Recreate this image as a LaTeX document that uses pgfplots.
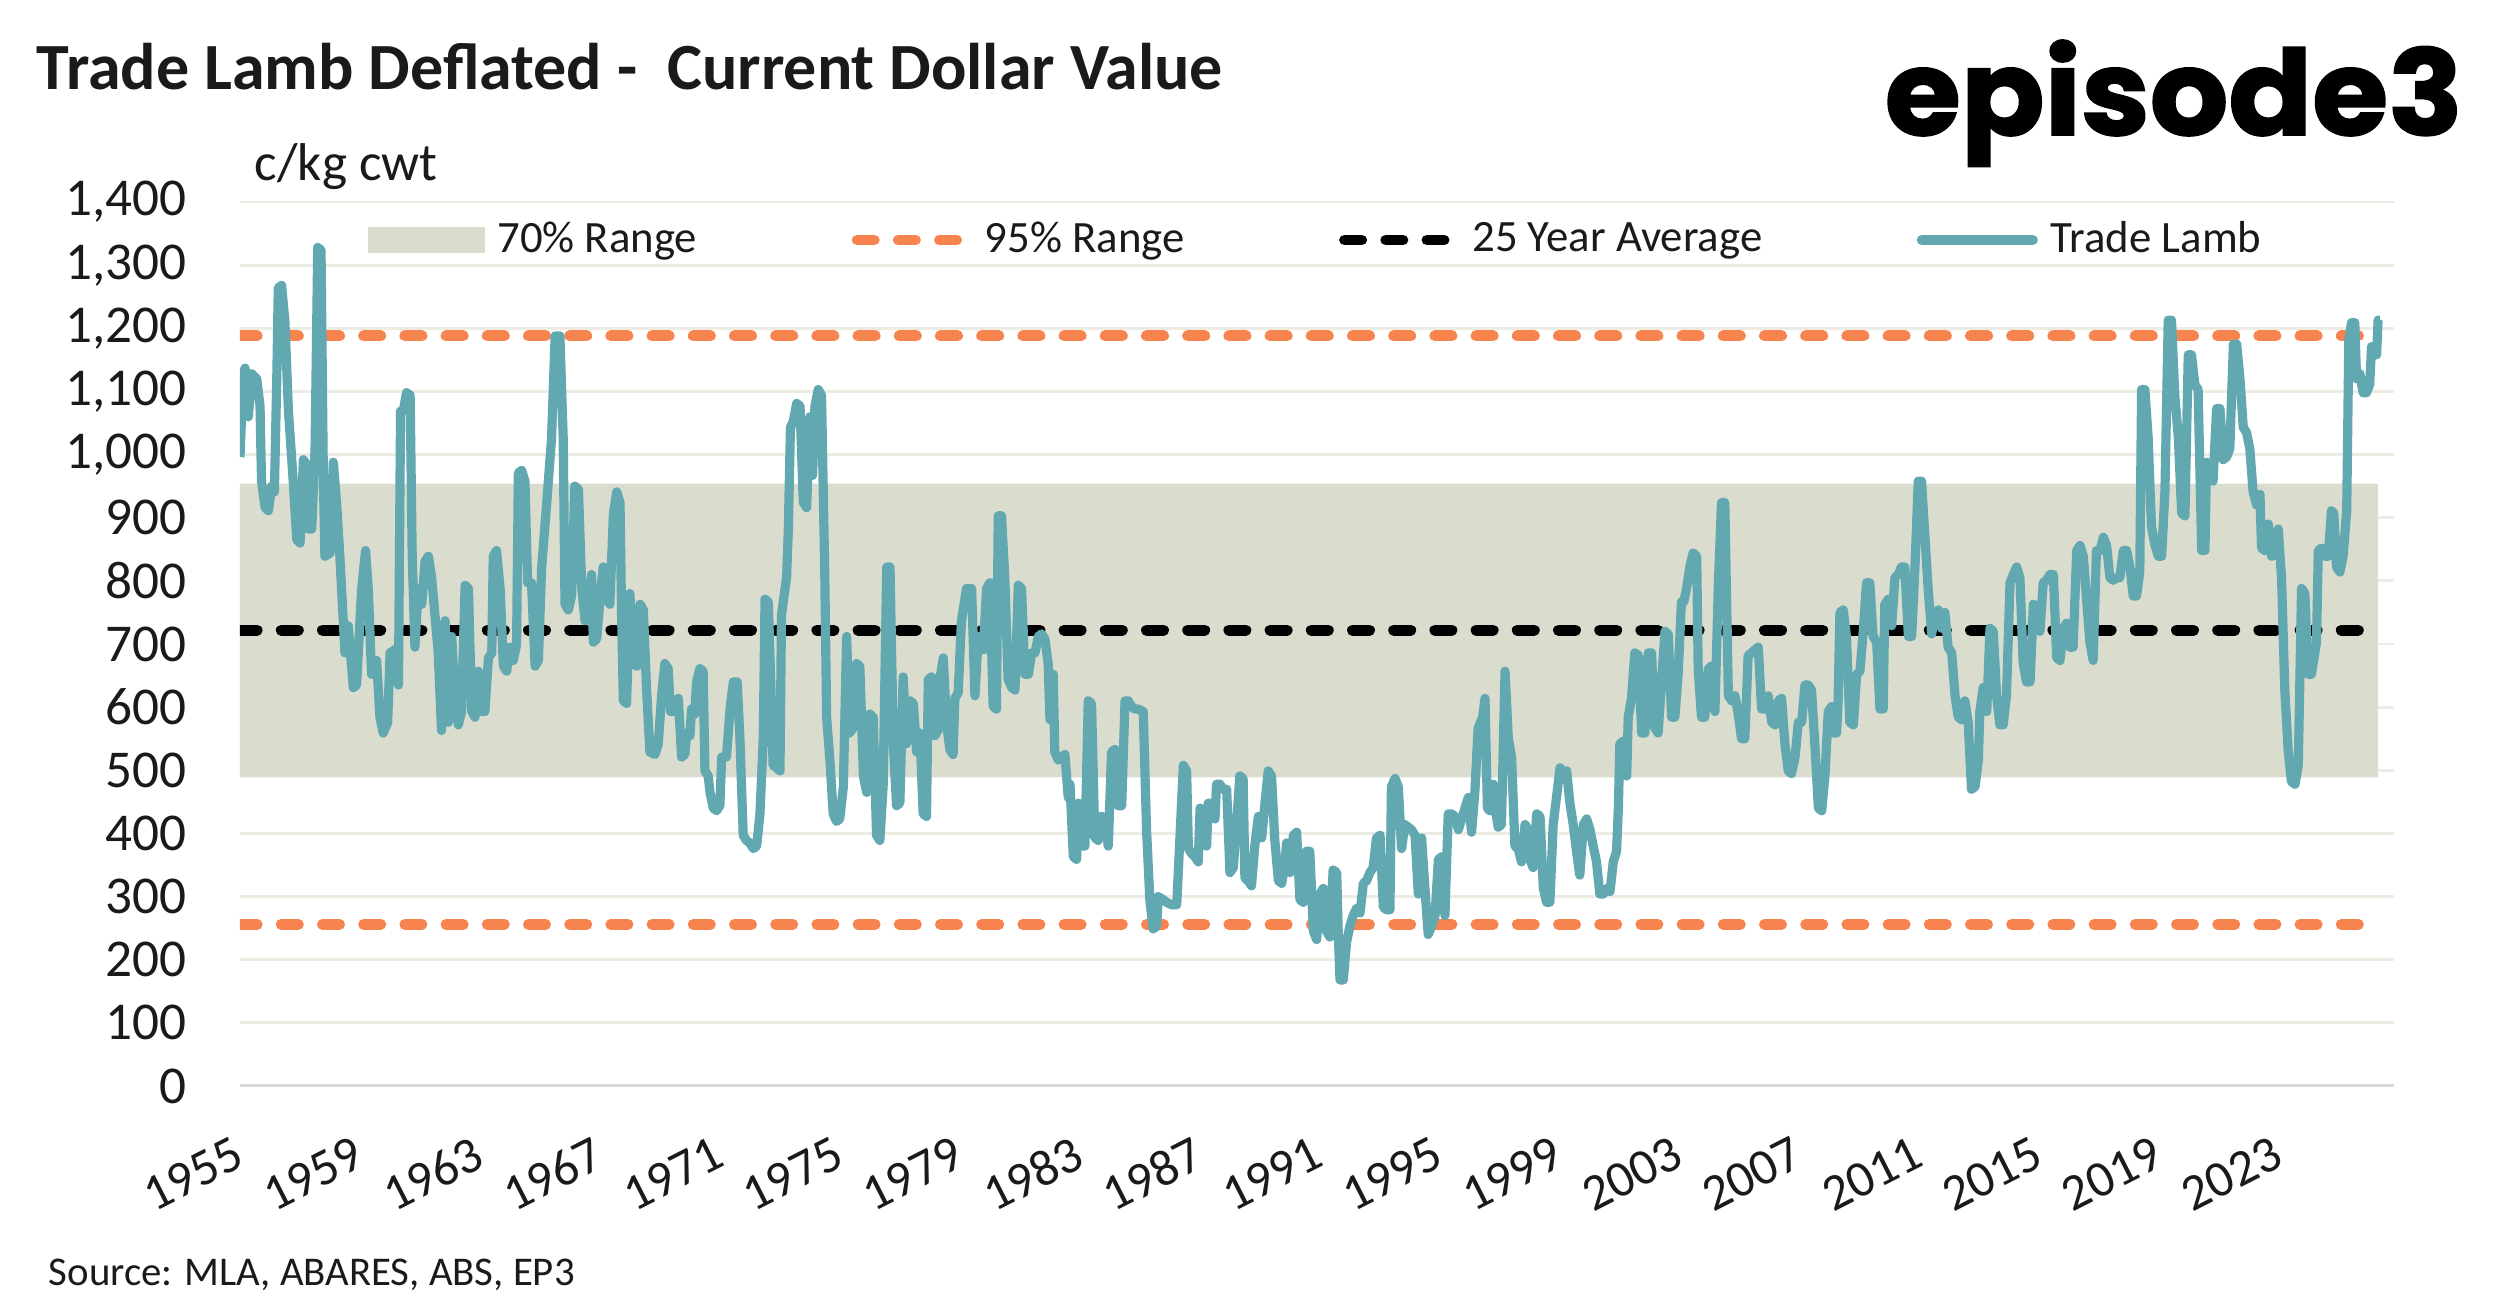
\documentclass[border=0pt]{standalone}
\usepackage{fontspec}
\setmainfont{Carlito}
\newfontfamily\logofont{Poppins}[BoldFeatures={FakeBold=1.5}]
\usepackage{graphicx}
\usepackage{pgfplots}
\pgfplotsset{compat=1.18}
\definecolor{teal1}{RGB}{98,168,176}
\definecolor{orange1}{RGB}{247,131,79}
\definecolor{bandc}{RGB}{218,221,206}
\definecolor{gridc}{RGB}{236,236,226}
\definecolor{axisc}{RGB}{217,217,217}
\definecolor{txt}{RGB}{26,26,26}
\pgfplotstableread{
x y
1955.00 996
1955.11 1128
1955.17 1137
1955.28 1060
1955.39 1128
1955.56 1120
1955.67 1077
1955.72 958
1955.84 916
1955.95 911
1956.06 950
1956.15 941
1956.23 1120
1956.28 1264
1956.39 1268
1956.50 1213
1956.62 1069
1956.78 958
1956.90 865
1957.01 860
1957.12 992
1957.23 984
1957.29 882
1957.40 882
1957.51 1009
1957.60 1328
1957.71 1324
1957.79 958
1957.84 839
1958.01 844
1958.12 988
1958.23 924
1958.34 839
1958.51 686
1958.62 729
1958.79 631
1958.90 635
1959.07 788
1959.20 848
1959.29 788
1959.40 652
1959.57 674
1959.68 584
1959.79 559
1959.94 576
1960.02 686
1960.18 691
1960.30 635
1960.37 1069
1960.46 1069
1960.57 1098
1960.69 1094
1960.76 839
1960.85 695
1960.96 788
1961.08 763
1961.19 831
1961.30 839
1961.41 805
1961.52 746
1961.63 686
1961.74 563
1961.86 737
1961.97 576
1962.08 712
1962.19 618
1962.30 572
1962.41 593
1962.53 793
1962.64 788
1962.75 593
1962.86 584
1962.97 657
1963.08 593
1963.19 593
1963.31 678
1963.42 686
1963.47 839
1963.58 848
1963.70 788
1963.81 665
1963.92 657
1964.03 695
1964.14 674
1964.25 699
1964.31 971
1964.42 975
1964.53 958
1964.62 797
1964.75 797
1964.87 665
1964.98 674
1965.09 822
1965.26 924
1965.42 1026
1965.54 1188
1965.70 1188
1965.81 1026
1965.87 763
1965.98 754
1966.09 776
1966.20 950
1966.32 945
1966.43 788
1966.54 737
1966.65 754
1966.76 810
1966.82 703
1966.93 708
1967.04 771
1967.15 822
1967.26 771
1967.37 763
1967.49 907
1967.60 941
1967.71 924
1967.76 754
1967.82 610
1967.93 606
1968.04 780
1968.15 669
1968.27 665
1968.38 763
1968.49 754
1968.60 627
1968.71 529
1968.88 525
1968.99 542
1969.10 618
1969.21 669
1969.32 661
1969.40 593
1969.51 593
1969.66 614
1969.77 521
1969.88 525
1969.94 559
1970.05 555
1970.10 597
1970.21 589
1970.27 640
1970.38 661
1970.49 657
1970.55 499
1970.66 491
1970.72 465
1970.83 440
1970.94 436
1971.05 444
1971.11 521
1971.27 521
1971.39 597
1971.50 640
1971.63 640
1971.72 550
1971.83 397
1971.94 389
1972.05 385
1972.17 376
1972.28 380
1972.39 431
1972.50 550
1972.56 771
1972.67 767
1972.78 593
1972.83 508
1972.95 504
1973.06 499
1973.11 746
1973.23 788
1973.28 805
1973.34 882
1973.41 1043
1973.50 1052
1973.62 1081
1973.73 1077
1973.84 924
1973.95 916
1974.06 1060
1974.15 967
1974.23 1077
1974.34 1103
1974.45 1094
1974.56 805
1974.62 584
1974.73 516
1974.84 431
1974.95 419
1975.06 423
1975.18 474
1975.29 712
1975.38 559
1975.51 567
1975.62 669
1975.73 665
1975.85 491
1975.96 465
1976.07 589
1976.18 584
1976.29 397
1976.40 389
1976.51 474
1976.63 822
1976.74 822
1976.85 542
1976.96 444
1977.07 448
1977.18 648
1977.29 542
1977.41 610
1977.52 606
1977.63 529
1977.74 559
1977.85 431
1977.96 427
1978.02 644
1978.13 648
1978.24 555
1978.35 563
1978.41 644
1978.52 678
1978.63 576
1978.74 533
1978.85 525
1978.91 614
1979.02 623
1979.13 737
1979.30 788
1979.47 788
1979.58 618
1979.69 712
1979.75 695
1979.86 691
1979.97 788
1980.08 797
1980.19 601
1980.30 597
1980.36 903
1980.47 903
1980.58 805
1980.69 644
1980.81 631
1980.92 627
1981.03 793
1981.14 788
1981.25 652
1981.37 652
1981.48 686
1981.59 686
1981.70 712
1981.81 716
1981.92 708
1982.03 669
1982.09 580
1982.20 652
1982.25 529
1982.37 516
1982.59 525
1982.70 457
1982.76 478
1982.87 363
1982.98 359
1983.04 448
1983.15 380
1983.26 380
1983.37 610
1983.48 606
1983.59 393
1983.70 389
1983.82 427
1983.93 423
1984.04 380
1984.15 529
1984.26 533
1984.37 444
1984.49 444
1984.60 610
1984.71 610
1984.82 601
1984.93 597
1985.04 597
1985.21 593
1985.32 406
1985.43 295
1985.54 249
1985.66 253
1985.71 300
1985.88 295
1985.99 291
1986.16 287
1986.33 287
1986.44 397
1986.55 508
1986.66 499
1986.72 376
1986.83 368
1986.94 363
1987.05 355
1987.11 440
1987.22 436
1987.33 380
1987.38 448
1987.50 448
1987.61 423
1987.66 478
1987.77 478
1987.89 470
1988.00 470
1988.11 338
1988.22 346
1988.33 414
1988.44 491
1988.55 487
1988.61 329
1988.72 325
1988.83 317
1988.94 380
1989.06 427
1989.17 393
1989.28 448
1989.39 499
1989.50 491
1989.61 389
1989.73 325
1989.84 321
1989.95 351
1990.00 385
1990.12 338
1990.23 397
1990.34 402
1990.45 295
1990.56 291
1990.67 372
1990.78 372
1990.90 245
1991.01 232
1991.12 304
1991.23 313
1991.34 245
1991.45 236
1991.56 342
1991.68 338
1991.73 245
1991.79 168
1991.90 168
1992.01 228
1992.12 253
1992.23 270
1992.34 281
1992.46 274
1992.57 321
1992.68 325
1992.79 338
1992.90 346
1993.01 393
1993.13 397
1993.24 283
1993.35 279
1993.46 279
1993.51 474
1993.63 487
1993.74 474
1993.85 376
1993.96 414
1994.07 410
1994.18 406
1994.30 397
1994.41 304
1994.52 393
1994.63 313
1994.74 240
1994.85 253
1994.97 270
1995.08 359
1995.19 363
1995.30 270
1995.41 431
1995.52 431
1995.63 427
1995.75 406
1995.86 423
1995.97 440
1996.08 457
1996.19 402
1996.30 465
1996.41 567
1996.56 584
1996.64 614
1996.72 440
1996.80 436
1996.92 478
1997.01 431
1997.08 410
1997.19 414
1997.31 657
1997.42 550
1997.53 521
1997.64 380
1997.75 376
1997.86 355
1997.98 414
1998.09 406
1998.14 359
1998.25 346
1998.37 431
1998.48 427
1998.59 313
1998.70 291
1998.81 291
1998.92 414
1999.03 457
1999.15 504
1999.26 495
1999.37 499
1999.48 448
1999.59 414
1999.70 372
1999.81 334
1999.93 414
2000.04 423
2000.15 406
2000.26 380
2000.37 355
2000.48 304
2000.59 304
2000.71 313
2000.82 308
2000.93 355
2001.04 372
2001.10 440
2001.15 542
2001.26 546
2001.38 491
2001.43 584
2001.54 614
2001.65 686
2001.77 682
2001.88 559
2001.99 559
2002.10 686
2002.21 686
2002.32 567
2002.43 559
2002.55 644
2002.66 720
2002.77 716
2002.88 584
2002.99 584
2003.10 652
2003.21 767
2003.29 767
2003.38 788
2003.49 822
2003.60 844
2003.72 839
2003.77 661
2003.88 584
2003.99 584
2004.11 661
2004.22 665
2004.33 593
2004.44 788
2004.55 924
2004.66 924
2004.78 618
2004.89 610
2005.00 618
2005.11 589
2005.22 550
2005.33 550
2005.44 682
2005.56 686
2005.67 691
2005.78 695
2005.89 597
2006.00 597
2006.11 618
2006.23 576
2006.34 572
2006.45 610
2006.56 614
2006.67 542
2006.78 499
2006.89 495
2007.01 521
2007.12 576
2007.23 576
2007.34 635
2007.45 635
2007.56 627
2007.67 542
2007.79 440
2007.90 436
2008.01 491
2008.12 593
2008.23 601
2008.29 559
2008.40 559
2008.45 610
2008.51 750
2008.62 754
2008.73 712
2008.84 576
2008.96 572
2009.07 652
2009.18 657
2009.29 720
2009.40 797
2009.51 797
2009.62 712
2009.74 703
2009.85 597
2009.96 597
2010.01 763
2010.13 771
2010.24 729
2010.35 805
2010.46 810
2010.57 822
2010.68 822
2010.80 712
2010.91 712
2011.02 822
2011.13 958
2011.24 958
2011.35 873
2011.46 788
2011.58 716
2011.69 746
2011.80 754
2011.91 725
2012.02 750
2012.13 695
2012.25 686
2012.36 618
2012.47 584
2012.58 580
2012.69 610
2012.80 576
2012.91 470
2013.03 474
2013.14 516
2013.19 593
2013.30 631
2013.42 593
2013.53 725
2013.64 720
2013.75 618
2013.86 572
2013.97 572
2014.08 618
2014.20 797
2014.31 810
2014.42 822
2014.53 805
2014.64 669
2014.75 640
2014.87 640
2014.98 763
2015.09 759
2015.20 720
2015.31 797
2015.42 801
2015.53 810
2015.65 810
2015.76 678
2015.87 674
2015.98 725
2016.09 733
2016.20 695
2016.31 695
2016.43 848
2016.54 856
2016.65 839
2016.76 771
2016.87 703
2016.98 674
2017.09 848
2017.21 848
2017.32 869
2017.43 856
2017.54 805
2017.65 801
2017.76 805
2017.87 805
2017.99 848
2018.10 848
2018.21 822
2018.32 776
2018.43 776
2018.54 814
2018.60 1103
2018.71 1103
2018.82 1026
2018.93 886
2019.05 856
2019.16 839
2019.27 839
2019.38 941
2019.49 1213
2019.60 1213
2019.71 1094
2019.83 1026
2019.94 907
2020.05 903
2020.16 1158
2020.27 1158
2020.38 1111
2020.49 1103
2020.61 848
2020.72 848
2020.77 988
2020.88 979
2020.99 958
2021.11 1073
2021.22 1073
2021.33 992
2021.44 996
2021.55 1009
2021.67 1175
2021.78 1175
2021.89 1120
2022.00 1043
2022.11 1035
2022.22 1009
2022.33 941
2022.45 920
2022.56 937
2022.61 852
2022.72 848
2022.84 890
2022.95 839
2023.06 844
2023.17 882
2023.28 805
2023.39 627
2023.50 533
2023.61 482
2023.73 478
2023.84 508
2023.95 788
2024.06 780
2024.17 652
2024.28 652
2024.45 703
2024.51 848
2024.62 852
2024.73 839
2024.84 839
2024.95 911
2025.03 907
2025.12 822
2025.23 814
2025.34 839
2025.46 911
2025.53 1179
2025.62 1209
2025.73 1209
2025.79 1120
2025.90 1128
2026.01 1098
2026.12 1098
2026.23 1111
2026.29 1171
2026.40 1171
2026.46 1158
2026.51 1213
2026.57 1213
}\lamb
\begin{document}
\begin{tikzpicture}
\path[use as bounding box] (0,0) rectangle (624.25pt,-327.5pt);
\node[anchor=base west, inner sep=0pt, text=txt, font=\fontsize{16.5}{19}\selectfont\bfseries] at (9pt,-22.25pt) {Trade Lamb Deflated - \ Current Dollar Value};
\node[anchor=base west, inner sep=0pt] at (471pt,-33.75pt) {\resizebox{144.5pt}{23.75pt}{\logofont\bfseries episode3}};
\node[anchor=base west, inner sep=0pt, text=txt, font=\fontsize{13.3}{16}\selectfont] at (63.5pt,-45pt) {c/kg cwt};
\node[anchor=base west, inner sep=0pt, text=txt, font=\fontsize{10.2}{12}\selectfont] at (12pt,-321.25pt) {Source: MLA, ABARES, ABS, EP3};
\begin{axis}[
  at={(60pt,-271.5pt)}, anchor=south west,
  scale only axis, width=538.5pt, height=221pt,
  xmin=1955, xmax=2026.85, ymin=0, ymax=1400,
  x filter/.expression={1955+(x-1955)*0.997332},
  axis line style={draw=none},
  major tick length=0pt,
  ytick={0,100,...,1400},
  xtick={1955,1959,...,2023},
  ymajorgrids, grid style={gridc, line width=0.7pt},
  /pgf/number format/assume math mode=true,
  /pgf/number format/1000 sep={},
  scaled y ticks=false,
  yticklabel style={/pgf/number format/1000 sep={,}, anchor=east, inner sep=0pt, text=txt, font=\fontsize{13.3}{16}\selectfont},
  yticklabel shift=13.25pt,
  xticklabel style={rotate=27, anchor=east, inner sep=0pt, text=txt, font=\fontsize{12.8}{15}\selectfont},
  xticklabel shift=16pt,
  legend columns=4,
  legend cell align=left,
  legend style={at={(0.0594,0.957)}, anchor=west, draw=none, fill=none, inner sep=0pt, outer sep=0pt,
     font=\fontsize{11.2}{13}\selectfont, text=txt,
     nodes={inner sep=0pt},
     /tikz/every odd column/.append style={column sep=3.2pt},
     /tikz/every even column/.append style={column sep=38.6pt}},
]
\addplot[fill=bandc, draw=none, forget plot] coordinates {(1955,489) (2026.5,489) (2026.5,954) (1955,954) (1955,489)};
\addlegendimage{legend image code/.code={\fill[bandc] (0pt,-3pt) rectangle (28.75pt,3pt);}}
\addlegendentry{70\% Range}
\draw[axisc, line width=0.8pt] (rel axis cs:0,0) -- (rel axis cs:1,0);
\addplot[orange1, line width=2.7pt, dash pattern=on 4.3pt off 6pt, line cap=round,
  legend image code/.code={\draw[orange1, line width=2.7pt, dash pattern=on 4.3pt off 6pt, line cap=round] (1.35pt,0) -- (28.75pt,0);}]
  coordinates {(1955,1188) (2026.6,1188)};
\addlegendentry{95\% Range}
\addplot[orange1, line width=2.7pt, dash pattern=on 4.3pt off 6pt, line cap=round, forget plot]
  coordinates {(1955,256) (2026.6,256)};
\addplot[black, line width=2.7pt, dash pattern=on 4.3pt off 6pt, line cap=round,
  legend image code/.code={\draw[black, line width=2.7pt, dash pattern=on 4.3pt off 6pt, line cap=round] (1.35pt,0) -- (28.75pt,0);}]
  coordinates {(1955,722) (2026.6,722)};
\addlegendentry{25 Year Average}
\addplot[teal1, line width=2.3pt, line join=round,
  legend image code/.code={\draw[teal1, line width=2.6pt, line cap=round] (1.3pt,0) -- (29pt,0);}]
  table[x=x,y=y] {\lamb};
\addlegendentry{Trade Lamb}
\end{axis}
\end{tikzpicture}
\end{document}
